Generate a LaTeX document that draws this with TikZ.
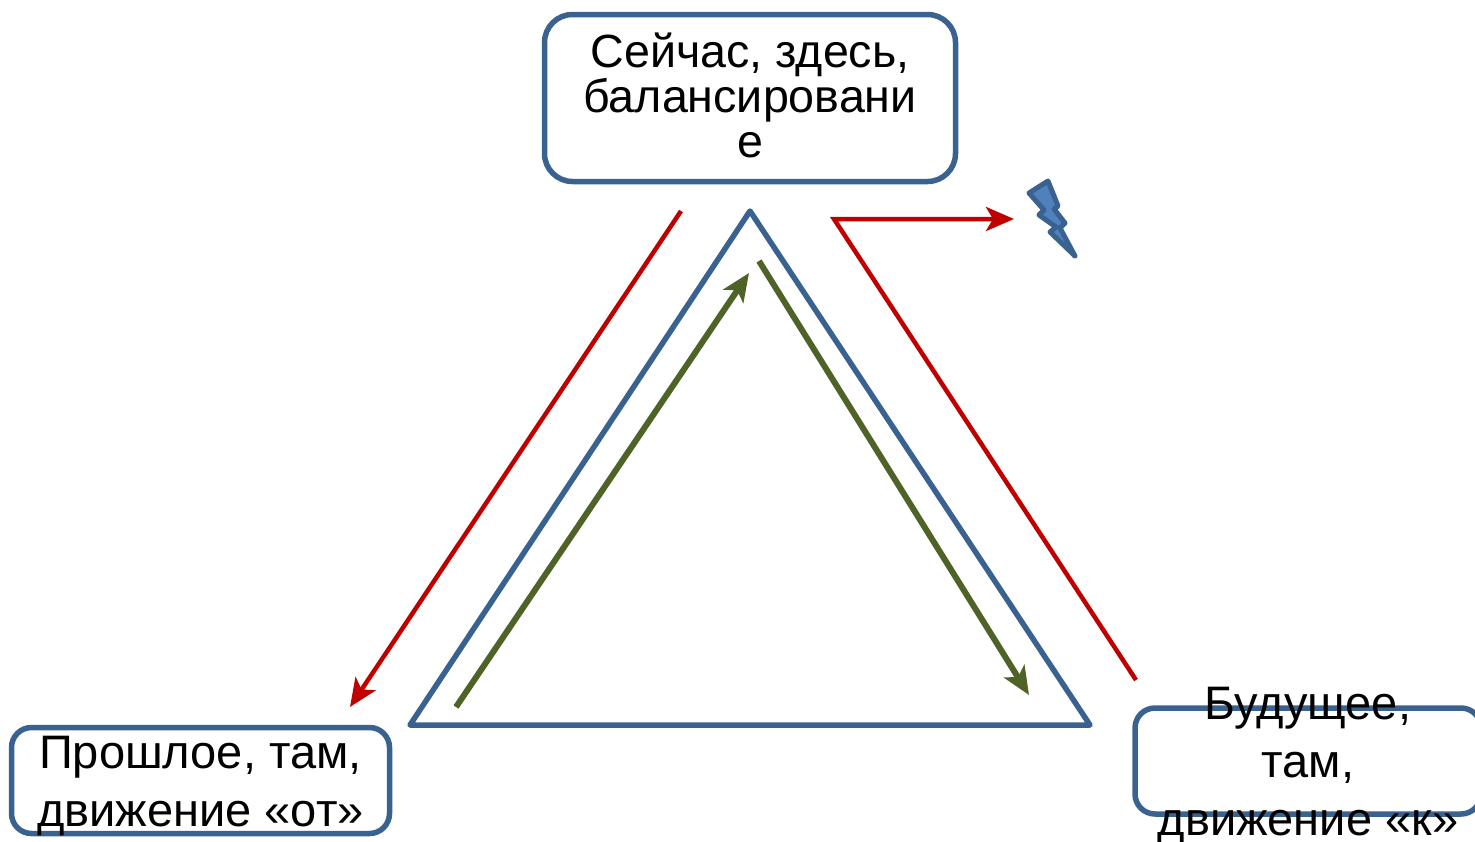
\documentclass[tikz,border=0pt]{standalone}
\usepackage{fontspec}
\setmainfont{Liberation Sans}
\usetikzlibrary{arrows.meta}
\definecolor{boxblue}{HTML}{3A6290}
\definecolor{fillblue}{HTML}{4F81BD}
\definecolor{arrred}{HTML}{C00000}
\definecolor{arrgreen}{HTML}{4F6228}
\tikzset{
  x=1pt,y=-1pt,
  roundbox/.style={draw=boxblue,line width=5.5pt,rounded corners=28pt,fill=white,inner sep=0pt,outer sep=0pt},
  redline/.style={draw=arrred,line width=4.5pt},
  greenline/.style={draw=arrgreen,line width=6pt},
  tip/.style={-{Stealth[length=28pt,width=24pt,inset=7pt]}}
}
\begin{document}
\begin{tikzpicture}
\useasboundingbox (0,0) rectangle (1475,841);
\clip (0,0) rectangle (1475,841);

% boxes
\node[roundbox,minimum width=411pt,minimum height=167pt] (now) at (750,98) {\smash{\parbox[c]{400pt}{\centering\fontsize{46.6pt}{45pt}\selectfont Сейчас, здесь,\\балансировани\\е}}};
\node[roundbox,rounded corners=20pt,minimum width=378pt,minimum height=106pt] (past) at (200.5,780.5) {\smash{\raisebox{-8pt}{\parbox[c]{370pt}{\centering\fontsize{47pt}{58pt}\selectfont Прошлое, там,\\движение «от»}}}};
\node[roundbox,rounded corners=20pt,minimum width=346pt,minimum height=106pt] (future) at (1308,761) {\smash{\raisebox{-8pt}{\parbox[c]{344pt}{\centering\fontsize{47pt}{58pt}\selectfont Будущее,\\там,\\движение «к»}}}};

% triangle
\coordinate (apex) at (750,211);
\coordinate (tl) at (410,725);
\coordinate (tr) at (1090,725);
\draw[draw=boxblue,line width=5.5pt,line join=round] (apex) -- (tr) -- (tl) -- cycle;

% green arrows
\coordinate (g1a) at (456,707);
\coordinate (g1b) at (749,273);
\coordinate (g2a) at (759,261);
\coordinate (g2b) at (1029,695);
\draw[greenline,tip] (g1a) -- (g1b);
\draw[greenline,tip] (g2a) -- (g2b);

% red arrows
\coordinate (r1a) at (681,211);
\coordinate (r1b) at (350,707);
\coordinate (r2a) at (1136,680);
\coordinate (r2b) at (834,219);
\coordinate (r2c) at (1014,219);
\draw[redline,tip] (r1a) -- (r1b);
\draw[redline,tip,line join=miter] (r2a) -- (r2b) -- (r2c);

% lightning
\draw[draw=boxblue,fill=fillblue,line width=5pt,line join=round]
  (1029,193) -- (1048,181) -- (1058,206) -- (1054,209) -- (1065,223) -- (1060,228) -- (1075,256)
  -- (1050,232) -- (1056,227) -- (1039,215) -- (1044,210) -- cycle;
\end{tikzpicture}
\end{document}
